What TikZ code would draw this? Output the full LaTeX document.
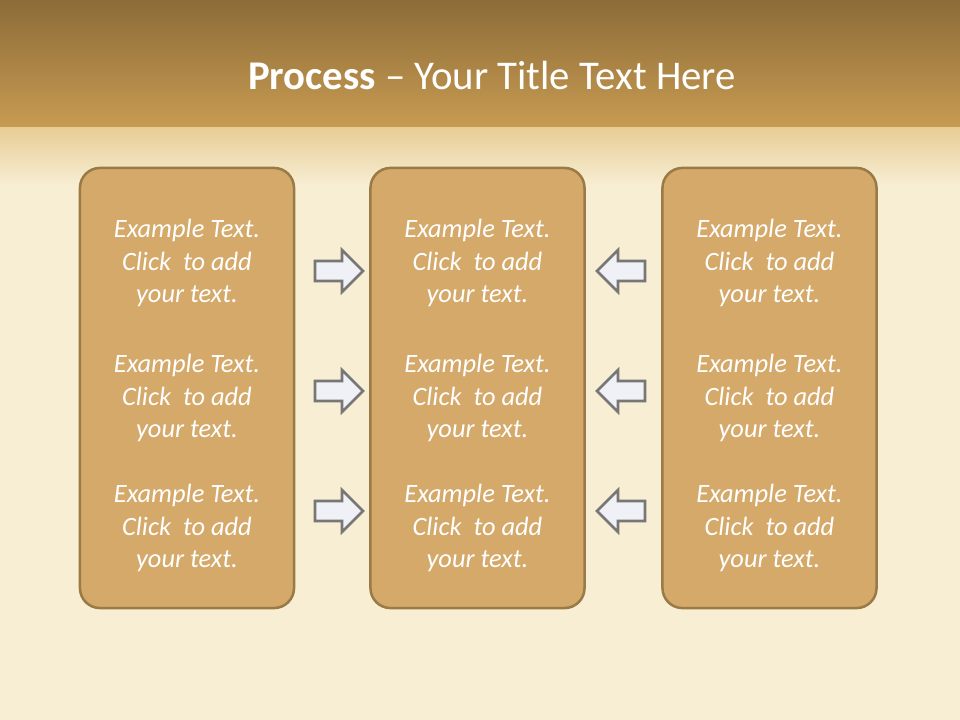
\documentclass[tikz,border=0pt]{standalone}
\usepackage{fontspec}
\setmainfont{Carlito}
\definecolor{bandtop}{HTML}{8C6C38}
\definecolor{bandbot}{HTML}{C89B52}
\definecolor{fadetop}{HTML}{E8CD96}
\definecolor{cream}{HTML}{F7EED3}
\definecolor{boxfill}{HTML}{D4A96A}
\definecolor{boxline}{HTML}{9A7A46}
\definecolor{arrfill}{HTML}{F0F1F6}
\definecolor{arrline}{HTML}{777777}
\begin{document}
\begin{tikzpicture}[x=0.025cm,y=-0.025cm,
  stepbox/.style={draw=boxline, line width=1.8pt, fill=boxfill, rounded corners=0.5cm,
    minimum width=5.35cm, minimum height=11cm, inner sep=0pt},
  boxtext/.style={align=center, text=white, font=\itshape\fontsize{18.8}{22.8}\selectfont, inner sep=0pt},
  arrowshape/.style={draw=arrline, fill=arrfill, line width=1.8pt, line join=miter},
  rarrow/.pic={\draw[arrowshape] (-24,-10) -- (3,-10) -- (3,-21) -- (24,0) -- (3,21) -- (3,10) -- (-24,10) -- cycle;},
  larrow/.pic={\draw[arrowshape] (24,-10) -- (-3,-10) -- (-3,-21) -- (-24,0) -- (-3,21) -- (-3,10) -- (24,10) -- cycle;}
]
\useasboundingbox (0,0) rectangle (960,720);
% background
\fill[cream] (0,0) rectangle (960,720);
\shade[top color=bandtop, bottom color=bandbot] (0,0) rectangle (960,128);
\shade[top color=fadetop, bottom color=cream] (0,128) rectangle (960,185);
% title
\node[text=white, font=\fontsize{29}{34}\selectfont, inner sep=0pt] (title) at (492,75)
  {\textbf{Process} -- Your Title Text Here};
% boxes
\node[stepbox] (b1) at (187,388) {};
\node[stepbox] (b2) at (477.5,388) {};
\node[stepbox] (b3) at (769.5,388) {};
% texts
\foreach \bx/\cx in {1/187, 2/477.5, 3/769.5}{
  \foreach \r/\cy in {1/263, 2/398, 3/528}{
    \node[boxtext] (t\bx\r) at (\cx,\cy) {Example Text.\\Click\ \ to add\\your text.};
  }
}
% arrows
\foreach \cy in {271,391,511}{
  \pic at (339,\cy) {rarrow};
  \pic at (621,\cy) {larrow};
}
\end{tikzpicture}
\end{document}
